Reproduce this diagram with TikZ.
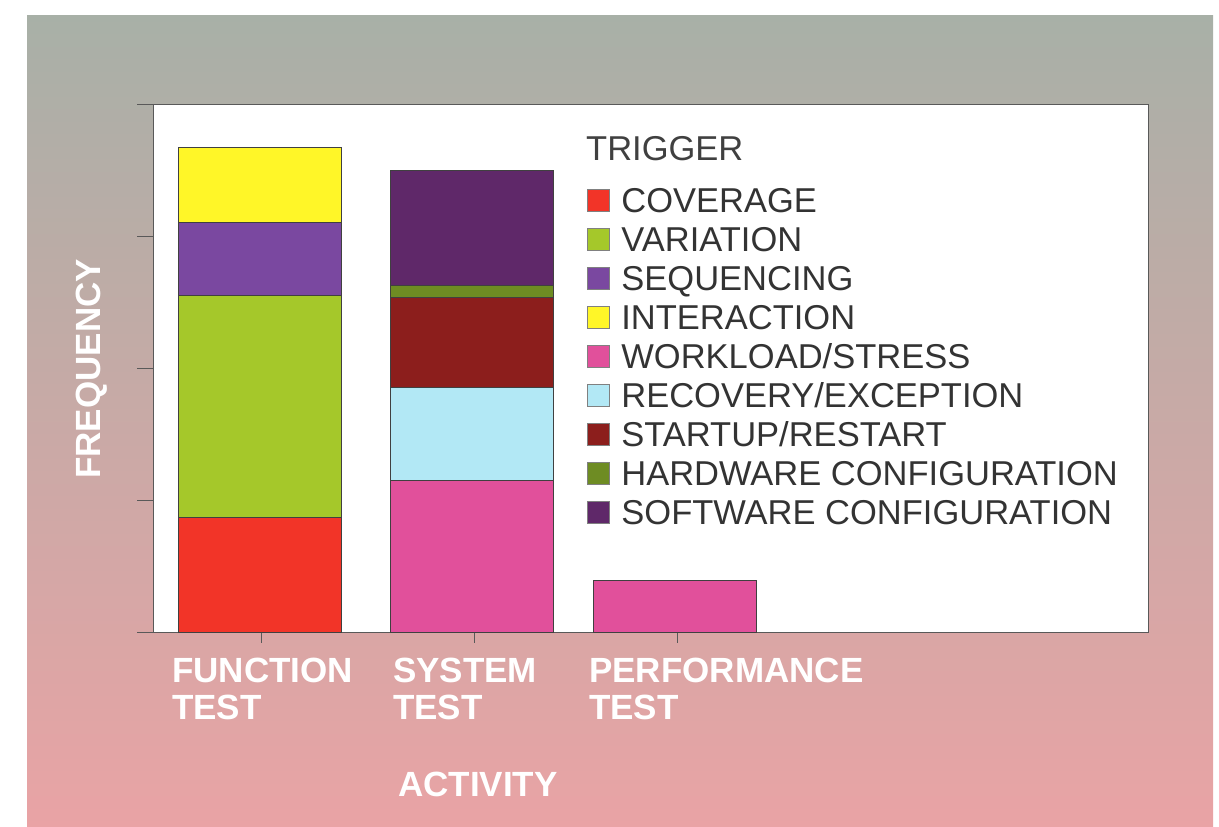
\documentclass[tikz,border=0pt]{standalone}
\usepackage{fontspec}
\setmainfont{Liberation Sans}
\usetikzlibrary{positioning}
\definecolor{bgtop}{RGB}{168,176,167}
\definecolor{bgmid}{RGB}{216,172,168}
\definecolor{bgbot}{RGB}{233,163,165}
\definecolor{cov}{RGB}{242,52,40}
\definecolor{var}{RGB}{165,200,42}
\definecolor{seq}{RGB}{122,72,160}
\definecolor{inter}{RGB}{255,246,40}
\definecolor{work}{RGB}{225,80,155}
\definecolor{rec}{RGB}{178,232,245}
\definecolor{start}{RGB}{140,30,28}
\definecolor{hw}{RGB}{110,140,35}
\definecolor{sw}{RGB}{95,40,105}
\begin{document}
\begin{tikzpicture}[x=1pt, y=-1pt,
    ax/.style = {draw=black!65, line width=1pt},
    seg/.style = {draw=black!75, line width=0.8pt},
    sq/.style = {draw=black!50, minimum size=22pt, inner sep=0pt},
    key/.style = {anchor=west, inner sep=0pt, text height=24pt, text depth=0pt, text=black!80, font=\fontsize{34.5}{38}\selectfont},
    cat/.style = {anchor=north west, align=left, inner sep=0pt, text=white, font=\fontsize{35}{37}\selectfont\bfseries}]
\useasboundingbox (0,0) rectangle (1219,827);
\shade[top color=bgtop, middle color=bgmid, bottom color=bgbot] (27,15) rectangle (1213,827);
% plot area
\fill[white] (153,104) rectangle (1148,632);
\draw[ax] (137,104) -- (1148,104) -- (1148,632) -- (137,632);
\draw[ax] (153,104) -- (153,632);
\foreach \y in {236,368,500} \draw[ax] (137,\y) -- (153,\y);
\foreach \x in {261,474,677} \draw[ax] (\x,632) -- (\x,643);
% bars
\foreach \x/\a/\b/\c in {178/632/517/cov, 178/517/295/var, 178/295/222/seq, 178/222/147/inter,
    390/632/480/work, 390/480/387/rec, 390/387/297/start, 390/297/285/hw, 390/285/170/sw,
    593/632/580/work}
  \draw[seg, fill=\c] (\x,\a) rectangle (\x+163,\b);
% legend
\node[key, text=black!75] (trig) at (586,148) {TRIGGER};
\foreach \c/\t [count=\i] in {cov/COVERAGE, var/VARIATION, seq/SEQUENCING, inter/INTERACTION,
    work/WORKLOAD\slash STRESS, rec/RECOVERY\slash EXCEPTION, start/STARTUP\slash RESTART,
    hw/HARDWARE CONFIGURATION, sw/SOFTWARE CONFIGURATION}
{
  \node[sq, fill=\c] (k\i) at (598,161+39*\i) {};
  \node[key, right=12pt of k\i] (t\i) {\t};
}
% axis labels
\node[cat] (fun) at (172,658) {FUNCTION\\TEST};
\node[cat] (sys) at (393,658) {SYSTEM\\TEST};
\node[cat] (perf) at (589,658) {PERFORMANCE\\TEST};
\node[cat, anchor=base west] (act) at (398,796) {ACTIVITY};
\node[cat, anchor=base west, rotate=90] (freq) at (100,479) {FREQUENCY};
\end{tikzpicture}
\end{document}
